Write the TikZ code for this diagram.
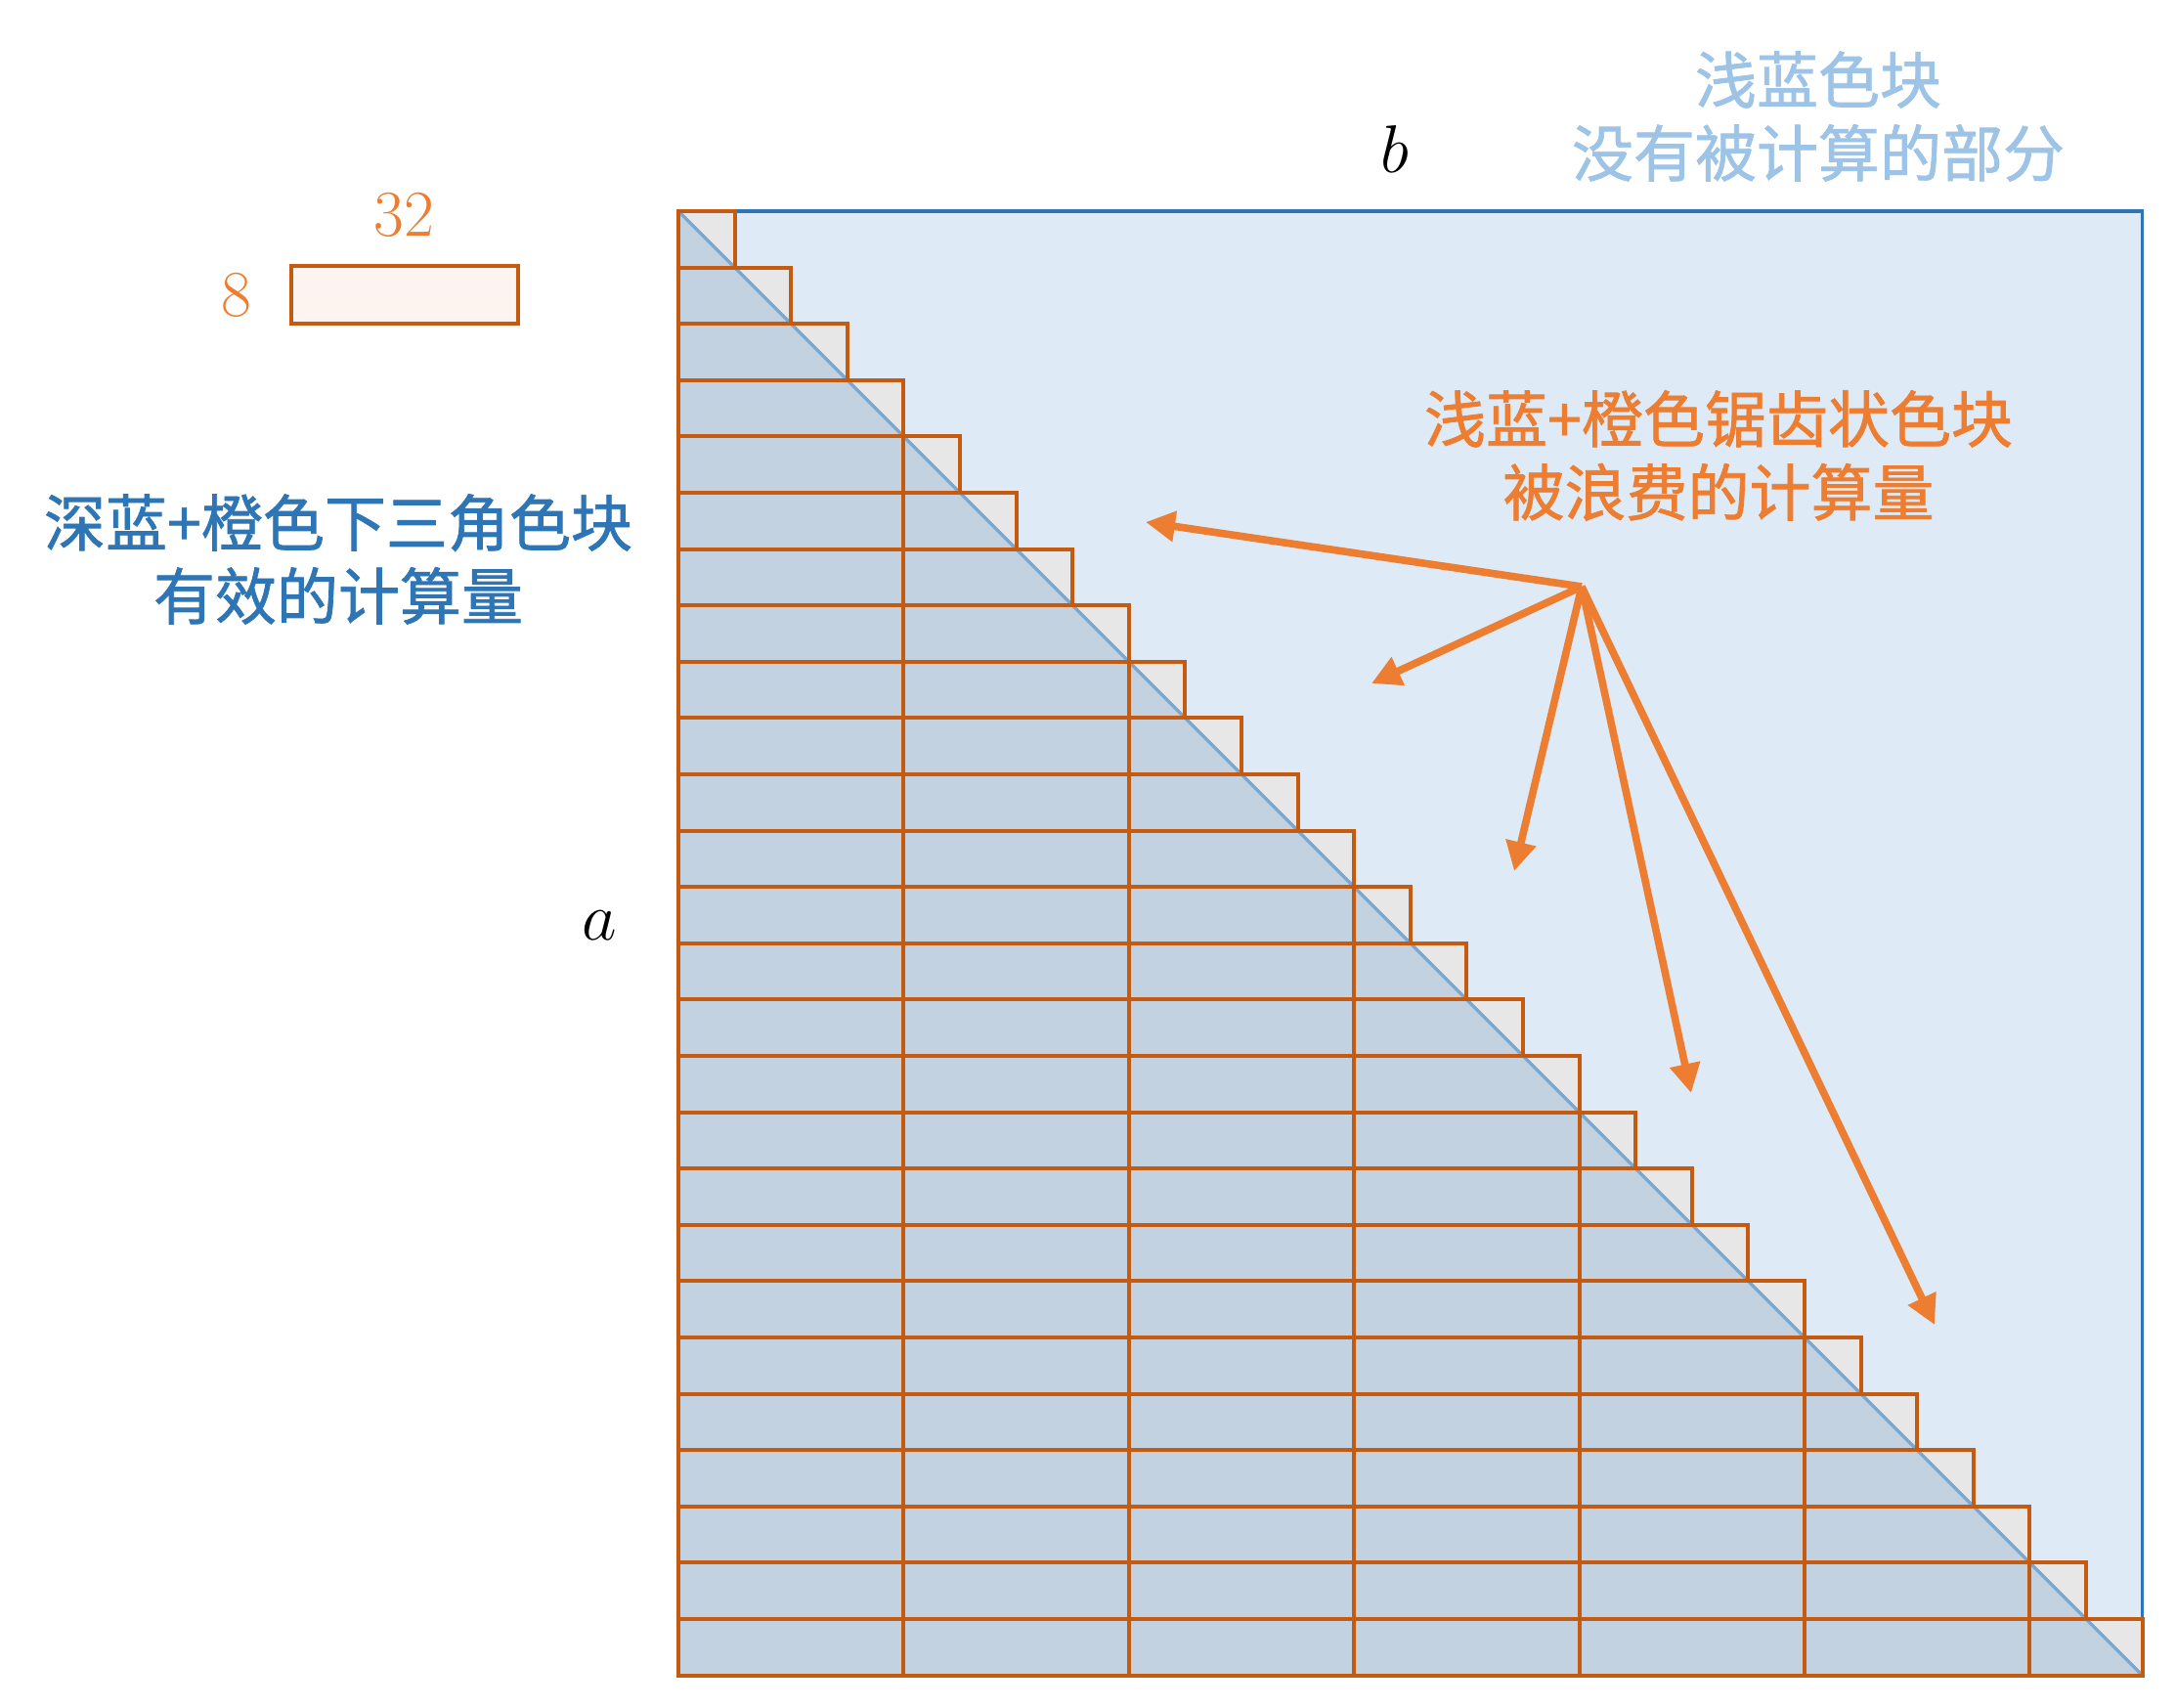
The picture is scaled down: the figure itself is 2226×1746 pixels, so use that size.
\documentclass[tikz,border=0pt]{standalone}
\usepackage{fontspec}
\newfontfamily\cjk[FakeBold=1.2]{Noto Sans CJK SC}
\usetikzlibrary{arrows.meta}
\definecolor{lblue}{HTML}{DEEAF6}
\definecolor{dblue}{HTML}{C2D2E1}
\definecolor{lgrey}{HTML}{E7E7E7}
\definecolor{diagc}{HTML}{7FA7CC}
\definecolor{borderblue}{HTML}{2E75B6}
\definecolor{blockor}{HTML}{C55A11}
\definecolor{arrowor}{HTML}{ED7D31}
\definecolor{txtlblue}{HTML}{9DC3E6}
\definecolor{rectfill}{HTML}{FDF4EF}
\tikzset{
  blockline/.style={draw=blockor, line width=1pt},
  cjktext/.style={font=\cjk\fontsize{15.75}{18.75}\selectfont, align=center, inner sep=0pt},
  numtext/.style={text=arrowor, font=\fontsize{16.75}{20}\selectfont, inner sep=0pt},
  mathtext/.style={font=\fontsize{17.5}{21}\selectfont, inner sep=0pt},
  pointer/.style={draw=arrowor, line width=1.9pt, -{Triangle[length=7.5pt,width=7.5pt]}}
}
\begin{document}
\begin{tikzpicture}[x=0.25pt,y=-0.25pt]
\useasboundingbox (0,0) rectangle (2226,1746);
% background of the matrix
\fill[lblue] (694,216) rectangle (2191.6,1713.6);
\fill[dblue] (694,216) -- (2191.6,1713.6) -- (694,1713.6) -- cycle;
\foreach \i in {0,...,25} {
  \pgfmathsetmacro\xa{694+\i*57.6}
  \pgfmathsetmacro\xb{694+(\i+1)*57.6}
  \pgfmathsetmacro\ya{216+\i*57.6}
  \pgfmathsetmacro\yb{216+(\i+1)*57.6}
  \fill[lgrey] (\xa,\ya) -- (\xb,\ya) -- (\xb,\yb) -- cycle;
}
\draw[diagc, line width=0.85pt] (694,216) -- (2191.6,1713.6);
\draw[borderblue, line width=0.9pt] (694,216) rectangle (2191.6,1713.6);
% orange blocks
\foreach \i in {0,...,25} {
  \pgfmathsetmacro\xb{694+(\i+1)*57.6}
  \pgfmathsetmacro\ya{216+\i*57.6}
  \pgfmathsetmacro\yb{216+(\i+1)*57.6}
  \draw[blockline] (694,\ya) rectangle (\xb,\yb);
}
\foreach \k in {1,...,6} {
  \pgfmathsetmacro\xc{694+4*\k*57.6}
  \pgfmathsetmacro\yc{216+4*\k*57.6}
  \draw[blockline] (\xc,\yc) -- (\xc,1713.6);
}
% legend block
\node[draw=blockor, line width=1pt, fill=rectfill, minimum width=58pt, minimum height=14.75pt, inner sep=0pt] (legend) at (414,301.5) {};
\node[numtext] (w32) at (413,220) {32};
\node[numtext] (h8) at (242,302) {8};
% axis labels
\node[mathtext] (lb) at (1427,152) {$b$};
\node[mathtext] (la) at (613,947) {$a$};
% texts
\node[cjktext, text=txtlblue] (unused) at (1860,119) {浅蓝色块\\没有被计算的部分};
\node[cjktext, text=arrowor] (wasted) at (1758,466) {浅蓝+橙色锯齿状色块\\被浪费的计算量};
\node[cjktext, text=borderblue] (useful) at (346,572) {深蓝+橙色下三角色块\\有效的计算量};
% arrows
\coordinate (src) at (1618,600);
\coordinate (t1) at (1172,534);
\coordinate (t2) at (1403,699);
\coordinate (t3) at (1549,891);
\coordinate (t4) at (1730,1118);
\coordinate (t5) at (1979,1355);
\foreach \t in {t1,t2,t3,t4,t5} \draw[pointer] (src) -- (\t);
\end{tikzpicture}
\end{document}
